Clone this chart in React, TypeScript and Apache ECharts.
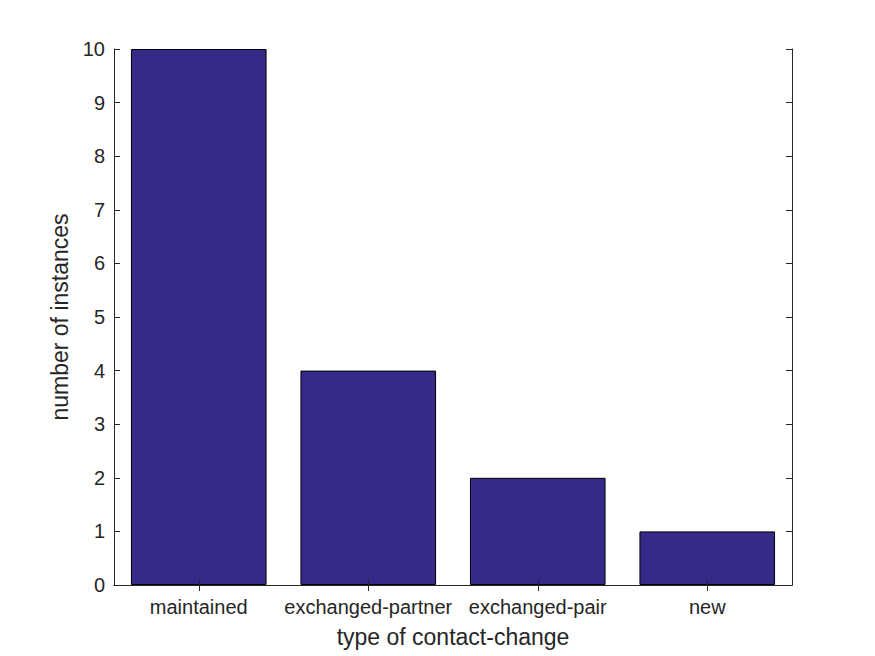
import React, { useEffect, useRef } from "react";
import * as echarts from "echarts";

const categories = ["maintained", "exchanged-partner", "exchanged-pair", "new"];
const counts = [10, 4, 2, 1];
const yTicks = [0, 10, 1];

const FONT = "'Liberation Sans', Arial, Helvetica, sans-serif";
const TXT = "#262626";

export default function App() {
  const ref = useRef<HTMLDivElement>(null);
  useEffect(() => {
    if (!ref.current) return;
    const chart = echarts.init(ref.current, undefined, { renderer: "svg" });
    const axisLine = { show: true, lineStyle: { color: "#262626", width: 1 } };
    const tick = { show: true, inside: true, length: 6, lineStyle: { color: "#262626", width: 1 } };
    chart.setOption({
      animation: false,
      backgroundColor: "#ffffff",
      textStyle: { fontFamily: FONT },
      grid: { left: 114, right: 83, top: 49, bottom: 71, containLabel: false },
      xAxis: [
        {
          type: "category",
          data: categories,
          position: "bottom",
          z: 5,
          axisLine,
          axisTick: { ...tick, alignWithLabel: true, interval: 0 },
          axisLabel: { color: TXT, fontSize: 20, fontFamily: FONT, margin: 12, interval: 0, hideOverlap: false },
          name: "type of contact-change",
          nameLocation: "middle",
          nameGap: 40,
          nameTextStyle: { color: TXT, fontSize: 23, fontFamily: FONT },
          splitLine: { show: false },
        },
        {
          type: "category",
          data: categories,
          position: "top",
          z: 5,
          axisLine,
          axisTick: { ...tick, alignWithLabel: true, interval: 0 },
          axisLabel: { show: false },
          splitLine: { show: false },
        },
      ],
      yAxis: [
        {
          type: "value",
          min: yTicks[0],
          max: yTicks[1],
          interval: yTicks[2],
          position: "left",
          z: 5,
          axisLine,
          axisTick: tick,
          axisLabel: { color: TXT, fontSize: 20, fontFamily: FONT, margin: 9 },
          splitLine: { show: false },
          name: "number of instances",
          nameLocation: "middle",
          nameGap: 41,
          nameTextStyle: { color: TXT, fontSize: 23, fontFamily: FONT },
        },
        {
          type: "value",
          min: yTicks[0],
          max: yTicks[1],
          interval: yTicks[2],
          position: "right",
          z: 5,
          axisLine,
          axisTick: tick,
          axisLabel: { show: false },
          splitLine: { show: false },
        },
      ],
      series: [
        {
          type: "bar",
          data: counts,
          xAxisIndex: 0,
          yAxisIndex: 0,
          barCategoryGap: "20%",
          itemStyle: { color: "#352a87", borderColor: "#000000", borderWidth: 1 },
        },
      ],
    });
    return () => chart.dispose();
  }, []);
  return <div ref={ref} style={{ width: 875, height: 656, position: "absolute", left: 0, top: 0 }} />;
}
